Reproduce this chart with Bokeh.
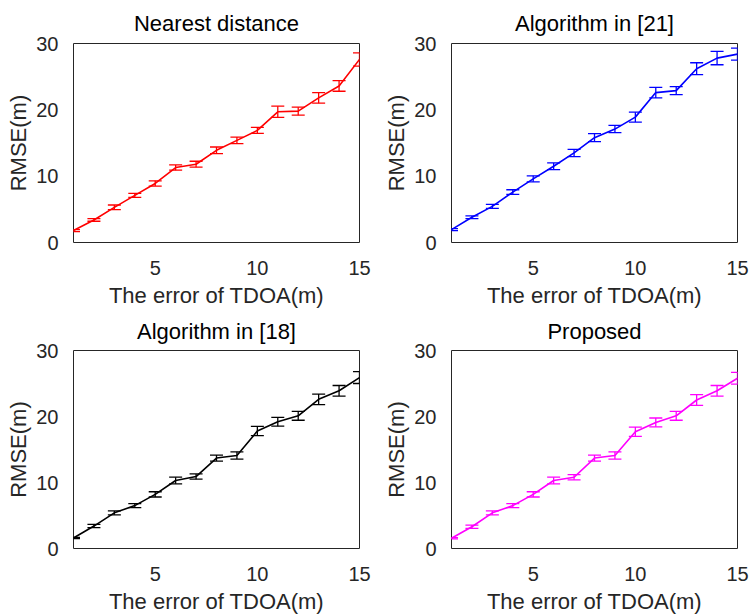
from bokeh.plotting import figure
from bokeh.models import ColumnDataSource, Whisker, TeeHead, Range1d, FixedTicker
from bokeh.layouts import gridplot
from bokeh.embed import file_html
from bokeh.resources import INLINE

x_vals = list(range(1, 16))

titles = ["Nearest distance", "Algorithm in [21]", "Algorithm in [18]", "Proposed"]
colors = ["#FF0000", "#0000FF", "#000000", "#FF00FF"]

rmse_nearest = [1.8, 3.4, 5.3, 7.1, 8.9, 11.3, 11.8, 13.9, 15.4, 16.9, 19.7, 19.8, 21.8, 23.6, 27.6]
err_nearest = [0.15, 0.2, 0.35, 0.3, 0.4, 0.4, 0.45, 0.5, 0.5, 0.45, 0.85, 0.6, 0.8, 0.8, 1.0]

rmse_alg21 = [1.95, 3.8, 5.45, 7.6, 9.6, 11.5, 13.5, 15.8, 17.1, 18.9, 22.6, 22.9, 26.2, 27.8, 28.4]
err_alg21 = [0.15, 0.2, 0.3, 0.35, 0.45, 0.5, 0.55, 0.6, 0.55, 0.75, 0.8, 0.6, 0.9, 1.0, 0.9]

rmse_alg18 = [1.6, 3.4, 5.4, 6.5, 8.2, 10.3, 10.9, 13.7, 14.1, 17.8, 19.2, 20.1, 22.6, 23.9, 25.9]
err_alg18 = [0.1, 0.25, 0.3, 0.3, 0.4, 0.5, 0.4, 0.45, 0.55, 0.7, 0.67, 0.67, 0.8, 0.8, 0.9]

rmse_proposed = [1.55, 3.3, 5.4, 6.5, 8.2, 10.3, 10.8, 13.7, 14.1, 17.7, 19.1, 20.1, 22.5, 23.9, 25.8]
err_proposed = [0.1, 0.25, 0.3, 0.3, 0.4, 0.5, 0.4, 0.45, 0.55, 0.7, 0.67, 0.67, 0.8, 0.8, 0.9]

x_ticks = [5, 10, 15]
y_ticks = [0, 10, 20, 30]
x_label = "The error of TDOA(m)"
y_label = "RMSE(m)"

series = [(rmse_nearest, err_nearest), (rmse_alg21, err_alg21),
          (rmse_alg18, err_alg18), (rmse_proposed, err_proposed)]

FONT = "Liberation Sans"
TXT = "#262626"

# (width, height, left, right, top, bottom, title standoff)
geoms = [
    (376, 310, 73, 17, 43, 66, 16),
    (375, 310, 75, 14, 43, 66, 16),
    (376, 306, 73, 17, 38, 67, 13),
    (375, 306, 75, 14, 38, 67, 13),
]

figs = []
for i, (title, col, (yv, ev), g) in enumerate(zip(titles, colors, series, geoms)):
    w, h, bl, br, bt, bb, ts = g
    p = figure(width=w, height=h, output_backend="svg", toolbar_location=None,
               x_range=Range1d(1, 15), y_range=Range1d(0, 30),
               min_border_left=bl, min_border_right=br,
               min_border_top=bt, min_border_bottom=bb, title=title)
    p.title.text_font = FONT
    p.title.text_font_size = "22px"
    p.title.text_font_style = "normal"
    p.title.text_color = "#000000"
    p.title.align = "center"
    p.title.standoff = ts
    p.outline_line_color = TXT
    p.outline_line_width = 1
    p.outline_line_alpha = 1
    p.xgrid.visible = False
    p.ygrid.visible = False
    p.background_fill_color = "white"
    p.border_fill_color = "white"
    for ax in (p.xaxis[0], p.yaxis[0]):
        ax.axis_line_color = None
        ax.major_tick_line_color = None
        ax.minor_tick_line_color = None
        ax.major_label_text_font = FONT
        ax.major_label_text_font_size = "20px"
        ax.major_label_text_color = TXT
        ax.axis_label_text_font = FONT
        ax.axis_label_text_font_size = "22px"
        ax.axis_label_text_font_style = "normal"
        ax.axis_label_text_color = TXT
    p.xaxis.ticker = FixedTicker(ticks=x_ticks)
    p.yaxis.ticker = FixedTicker(ticks=y_ticks)
    p.xaxis.axis_label = x_label
    p.yaxis.axis_label = y_label
    p.xaxis.major_label_standoff = 12
    p.xaxis.axis_label_standoff = 5
    p.yaxis.major_label_standoff = 9
    p.yaxis.axis_label_standoff = 2

    src = ColumnDataSource(dict(x=x_vals, y=yv,
                                lo=[a - b for a, b in zip(yv, ev)],
                                hi=[a + b for a, b in zip(yv, ev)]))
    p.line("x", "y", source=src, line_color=col, line_width=1.6)
    wh = Whisker(base="x", upper="hi", lower="lo", source=src,
                 line_color=col, line_width=1.3,
                 upper_head=TeeHead(size=13, line_color=col, line_width=1.3),
                 lower_head=TeeHead(size=13, line_color=col, line_width=1.3))
    p.add_layout(wh)
    figs.append(p)

grid = gridplot([[figs[0], figs[1]], [figs[2], figs[3]]], toolbar_location=None)
open("out.html", "w").write(file_html(grid, INLINE))
